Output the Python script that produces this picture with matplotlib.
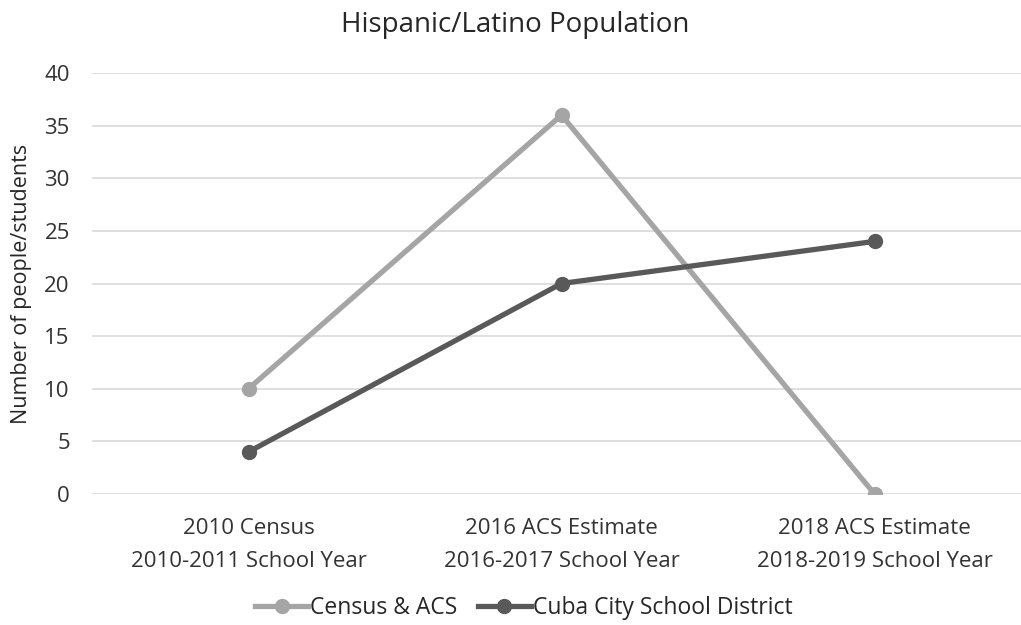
import matplotlib.pyplot as plt
import numpy as np

plt.rcParams['font.family'] = ['Open Sans', 'DejaVu Sans']

categories = ["2010 Census\n2010-2011 School Year",
              "2016 ACS Estimate\n2016-2017 School Year",
              "2018 ACS Estimate\n2018-2019 School Year"]
census_acs = [10, 36, 0]
school_district = [4, 20, 24]

fig = plt.figure(figsize=(10.21, 6.25), dpi=100)
ax = fig.add_axes([92 / 1021, 131 / 625, 939 / 1021, 421 / 625])

x = np.arange(len(categories))
ax.plot(x, census_acs, color="#A5A5A5", lw=3.8, marker="o", ms=10,
        label="Census & ACS", zorder=3)
ax.plot(x, school_district, color="#595959", lw=3.8, marker="o", ms=10,
        label="Cuba City School District", zorder=3)

ax.set_xlim(-0.5, 2.5)
ax.set_ylim(0, 40)
ax.set_yticks(range(0, 41, 5))
ax.set_xticks(x)
ax.set_xticklabels(categories, linespacing=1.8)
ax.grid(axis="y", color="#D9D9D9", lw=1.2)
ax.set_axisbelow(True)
for s in ax.spines.values():
    s.set_visible(False)
ax.tick_params(length=0, labelsize=16, colors="#333333")
ax.tick_params(axis="y", pad=16)
ax.tick_params(axis="x", pad=17)
ax.set_ylabel("Number of people/students", fontsize=15.5, color="#262626",
              labelpad=9)

fig.text(515 / 1021, 1 - 25 / 625, "Hispanic/Latino Population", ha="center",
         va="center", fontsize=20, color="#262626")
fig.legend(loc="center", bbox_to_anchor=(524 / 1021, 1 - 608 / 625), ncol=2,
           frameon=False, fontsize=16.5, handlelength=2.3, columnspacing=0.9,
           handletextpad=0.1, labelcolor="#262626")

fig.savefig("out.png", dpi=100)
